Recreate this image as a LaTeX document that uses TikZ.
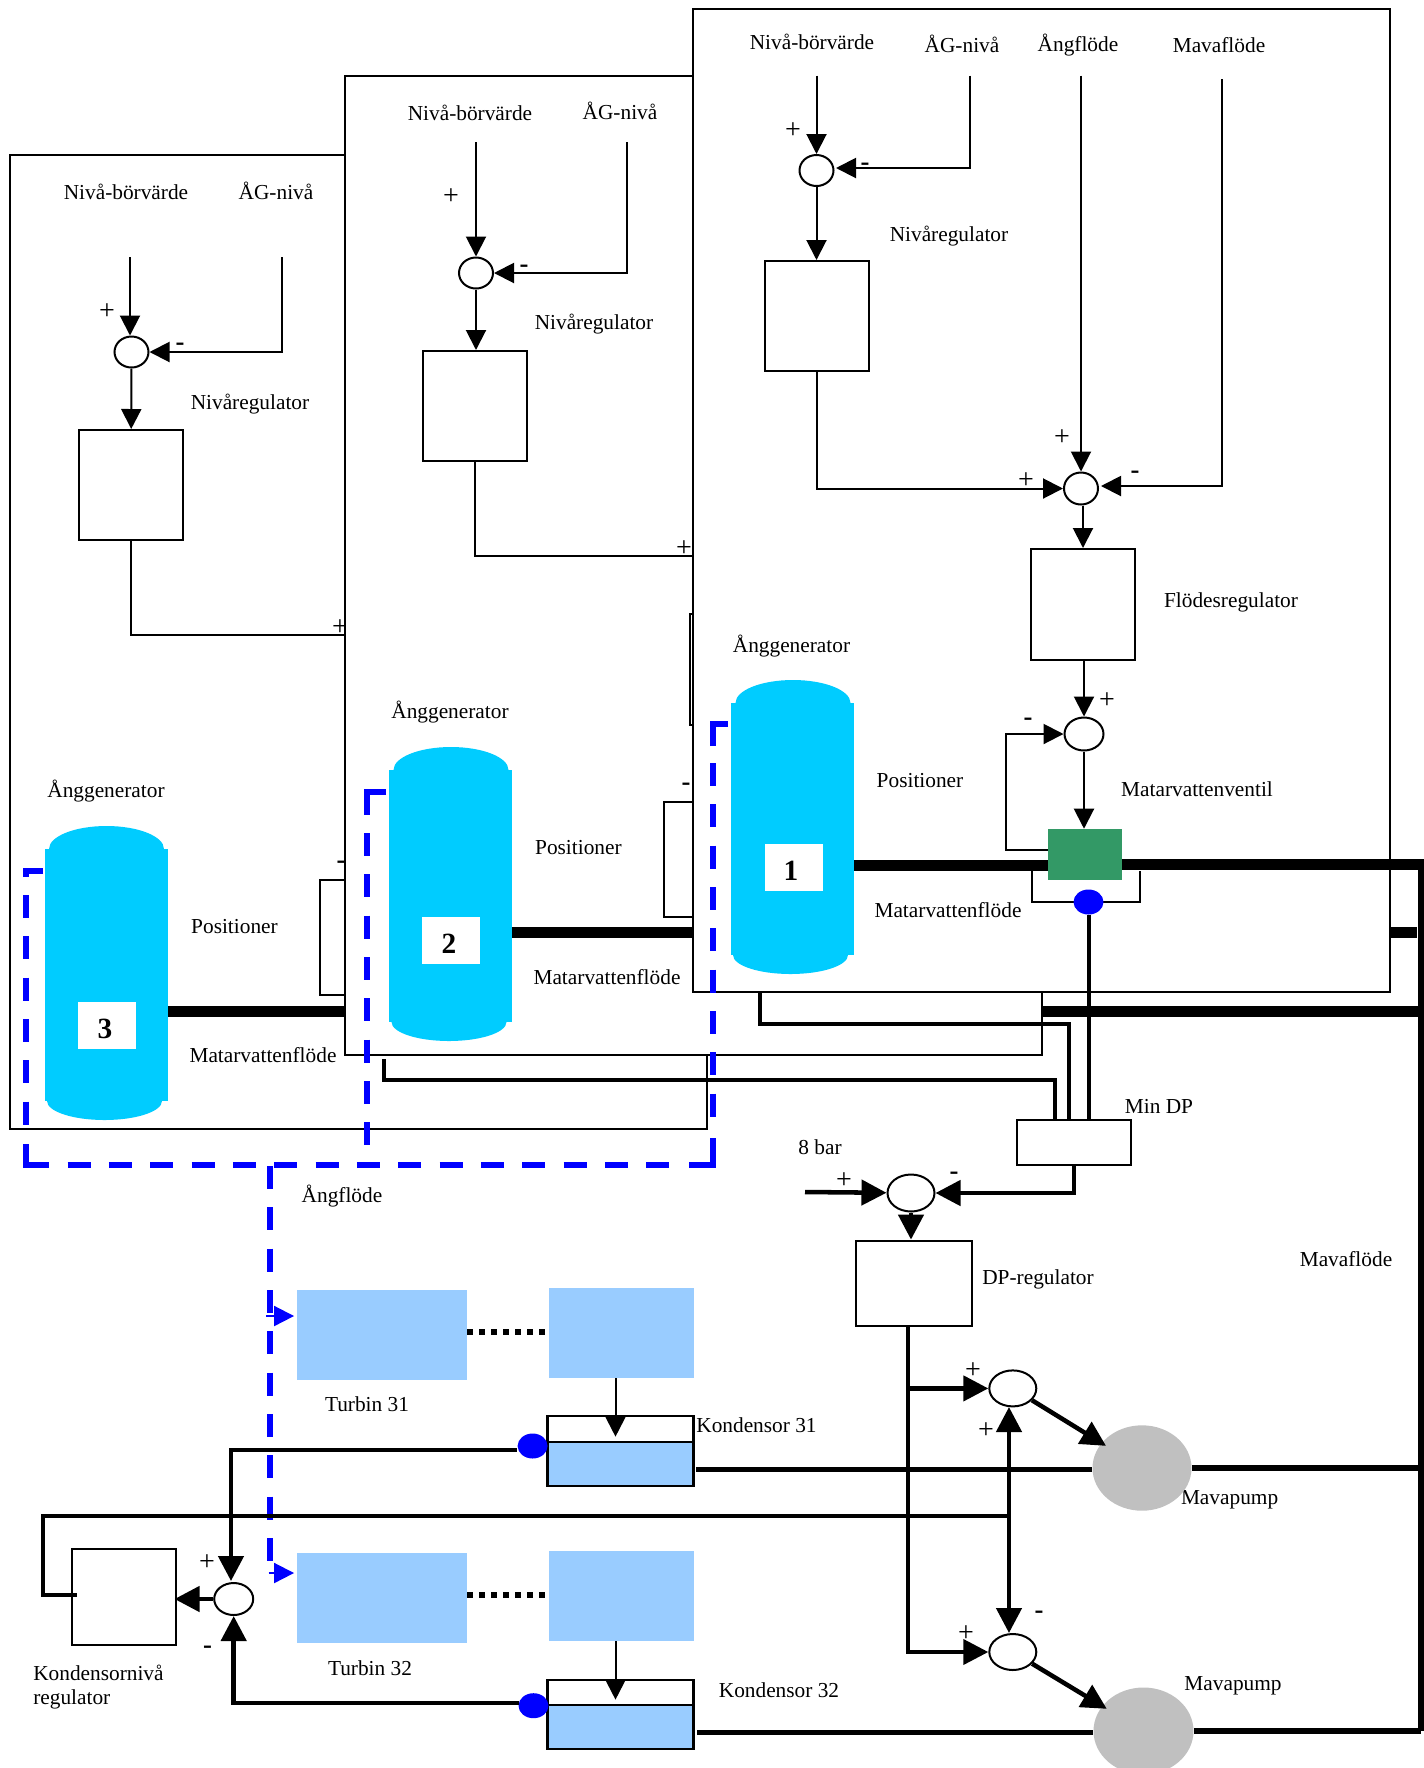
\documentclass[tikz,border=0pt]{standalone}
\usepackage{fontspec}
\setmainfont{Liberation Serif}
\usepackage{xcolor}
\usetikzlibrary{arrows.meta, shapes.geometric}
\definecolor{tankBlue}{HTML}{00CCFF}
\definecolor{turbBlue}{HTML}{99CCFF}
\definecolor{valveGreen}{HTML}{339966}
\definecolor{pumpGrey}{HTML}{C0C0C0}

\begin{document}
\begin{tikzpicture}[
  x=0.75pt, y=-0.75pt,
  wh/.style 2 args={minimum width=#1*0.75pt, minimum height=#2*0.75pt},
  lbl/.style={font=\fontsize{16}{18}\selectfont, inner sep=0pt},
  plus/.style={font=\fontsize{21}{21}\selectfont, inner sep=0pt, yshift=-1.5pt},
  minus/.style={font=\fontsize{20}{20}\selectfont\bfseries, inner sep=0pt, yshift=-3pt},
  digit/.style={inner sep=0pt, font=\fontsize{22}{24}\selectfont\bfseries},
  numbox/.style={fill=white, inner sep=0pt, wh={58}{47}},
  panel/.style={draw, fill=white, line width=1.5pt, inner sep=0pt},
  regbox/.style={draw, fill=white, line width=1.5pt, inner sep=0pt},
  turb/.style={fill=turbBlue, inner sep=0pt},
  kond/.style={draw, line width=2pt, inner sep=0pt},
  sumnode/.style={ellipse, draw, fill=white, line width=1.5pt, inner sep=0pt},
  tankbody/.style={fill=tankBlue, inner sep=0pt},
  dot/.style={ellipse, fill=blue, inner sep=0pt, wh={30}{25}},
  pump/.style={ellipse, fill=pumpGrey, inner sep=0pt},
  wire/.style={line width=1.5pt},
  sensor/.style={line width=3pt},
  sig/.style={line width=1.5pt, -{Triangle[length=15pt,width=15pt]}},
  bigsig/.style={line width=3.4pt, -{Triangle[length=18.75pt,width=18.75pt]}},
  pipe/.style={line width=8.25pt},
  mainline/.style={line width=4.2pt},
  steam/.style={blue, line width=4.5pt, dash pattern=on 17.25pt off 13.75pt},
  steamcorner/.style={blue, line width=4.5pt, miter limit=4},
  steamtip/.style={blue, line width=1.5pt, shorten >=2pt, -{Triangle[length=15pt,width=15pt]}},
  shaft/.style={line width=4.5pt, dash pattern=on 4.5pt off 4.5pt},
]
  \path[use as bounding box, clip] (0,0) rectangle (1424,1768);

  % PANEL 3
  \node[panel, wh={697}{974.5}] (panelC) at (358.5,641.75) {};
  \node[lbl] (spTxtC) at (126,192) {Nivå-börvärde};
  \node[lbl] (agTxtC) at (276,190.5) {ÅG-nivå};
  \node[plus] (plusC1) at (107,310) {+};
  \node[minus] (minusC1) at (180,343) {-};
  \node[lbl] (nivTxtC) at (250,404.5) {Nivåregulator};
  \node[plus] (plusC2) at (340,626) {+};
  \node[lbl] (genTxtC) at (106,791.5) {Ånggenerator};
  \node[lbl] (posTxtC) at (234.5,927) {Positioner};
  \node[lbl] (flowTxtC) at (263,1055.5) {Matarvattenflöde};
  \node[minus] (minusC2) at (341,861) {-};
  \coordinate (spC) at (130,257);
  \coordinate (agC) at (282,257);
  \coordinate (outC) at (345,635);
  \coordinate (pipeC) at (1421,1011);
  \node[sumnode, wh={34}{31}] (sumC) at (131.5,352) {};
  \node[regbox, wh={104}{110}] (regC) at (131,485) {};
  \node[regbox, wh={60}{115}] (posC) at (350,937.5) {};
  \draw[sig] (spC) -- (spC |- sumC.north);
  \draw[sig] (agC) |- (sumC);
  \draw[sig] (sumC) -- (regC);
  \draw[wire] (regC.south) |- (outC);
  \fill[tankBlue] (106.5,849) ellipse (57.5 and 23);
  \fill[tankBlue] (104.5,1101) ellipse (57.5 and 19);
  \node[tankbody, wh={123}{252}] (tankC) at (106.5,975) {};
  \node[numbox] (numBoxC) at (107,1025.5) {};
  \node[digit] (numC) at (105,1029) {3};
  \draw[pipe] (tankC.east |- pipeC) -- (pipeC);

  % PANEL 2
  \node[panel, wh={697}{979.5}] (panelB) at (693.5,565.25) {};
  \node[lbl] (spTxtB) at (470,113) {Nivå-börvärde};
  \node[lbl] (agTxtB) at (620,110.5) {ÅG-nivå};
  \node[plus] (plusB1) at (451,195) {+};
  \node[minus] (minusB1) at (524,265) {-};
  \node[lbl] (nivTxtB) at (594,324.5) {Nivåregulator};
  \node[plus] (plusB2) at (684,547) {+};
  \node[lbl] (genTxtB) at (450,712.5) {Ånggenerator};
  \node[lbl] (posTxtB) at (578.4,848) {Positioner};
  \node[lbl] (flowTxtB) at (607,977.5) {Matarvattenflöde};
  \node[minus] (minusB2) at (686,783) {-};
  \coordinate (spB) at (476,142);
  \coordinate (agB) at (627,142);
  \coordinate (outB) at (692,556);
  \coordinate (pipeB) at (1417,932.5);
  \node[sumnode, wh={34}{31}] (sumB) at (476,273) {};
  \node[regbox, wh={104}{110}] (regB) at (475,406) {};
  \node[regbox, wh={100}{111}] (flowB) at (740,669.5) {};
  \node[regbox, wh={60}{115}] (posB) at (694,859.5) {};
  \draw[sig] (spB) -- (sumB);
  \draw[sig] (agB) |- (sumB);
  \draw[sig] (sumB) -- (sumB |- regB.north);
  \draw[wire] (regB.south) |- (outB);
  \fill[tankBlue] (451,770) ellipse (57.5 and 23);
  \fill[tankBlue] (449,1022) ellipse (57.5 and 19);
  \node[tankbody, wh={123}{252}] (tankB) at (450.5,896) {};
  \node[numbox] (numBoxB) at (451,940.5) {};
  \node[digit] (numB) at (449,944) {2};
  \draw[pipe] (tankB.east |- pipeB) -- (pipeB);

  % PANEL 1
  \node[panel, wh={697}{983}] (panelA) at (1041,500.5) {};
  \node[lbl] (spTxtA) at (812,42) {Nivå-börvärde};
  \node[lbl] (agTxtA) at (962,44) {ÅG-nivå};
  \node[lbl] (steamTxtA) at (1078,45.5) {Ångflöde};
  \node[lbl] (mavaTxtA) at (1219,45) {Mavaflöde};
  \node[plus] (plusA1) at (793,128.5) {+};
  \node[minus] (minusA1) at (865,163) {-};
  \node[lbl] (nivTxtA) at (949,236.5) {Nivåregulator};
  \node[plus] (plusA2) at (1026,479) {+};
  \node[plus] (plusA3) at (1062,436) {+};
  \node[minus] (minusA2) at (1135,471) {-};
  \node[lbl] (flodTxtA) at (1231,602) {Flödesregulator};
  \node[plus] (plusA4) at (1107,699) {+};
  \node[minus] (minusA3) at (1028,718) {-};
  \node[lbl] (ventTxtA) at (1197,789) {Matarvattenventil};
  \node[lbl] (genTxtA) at (791.5,646) {Ånggenerator};
  \node[lbl] (posTxtA) at (920,781) {Positioner};
  \node[lbl] (flowTxtA) at (948,910) {Matarvattenflöde};
  \coordinate (spA) at (816.5,75.5);
  \coordinate (agA) at (969.6,75.5);
  \coordinate (sumAe) at (836,168);
  \coordinate (stA) at (1081,75.5);
  \coordinate (mavaA) at (1222,79);
  \coordinate (sumFe) at (1101,486);
  \coordinate (pipeV) at (1048,865);
  \coordinate (fbV) at (1006,849.6);
  \coordinate (brL) at (1032,871);
  \coordinate (brR) at (1140,871);
  \coordinate (busE) at (1424,864);
  \coordinate (busN) at (1421,864);
  \coordinate (busS) at (1421,1731);
  \node[sumnode, wh={34}{31}] (sumA) at (816.5,170.5) {};
  \node[regbox, wh={104}{110}] (regA) at (816.5,316) {};
  \node[sumnode, wh={34}{32}] (sumF) at (1081,488.5) {};
  \node[regbox, wh={104}{111}] (flowA) at (1083,604.5) {};
  \node[sumnode, wh={39}{33}] (sumV) at (1084,734) {};
  \draw[sig] (spA) -- (sumA);
  \draw[sig] (agA) |- (sumAe);
  \draw[sig] (sumA) -- (sumA |- regA.north);
  \draw[sig] (regA.south) |- (sumF);
  \draw[sig] (stA) -- (sumF);
  \draw[sig] (mavaA) |- (sumFe);
  \draw[sig] (sumF.south -| flowA.north) -- (flowA.north);
  \draw[sig] (flowA.south -| sumV) -- (sumV);
  \fill[tankBlue] (793,703) ellipse (57.5 and 23);
  \fill[tankBlue] (790.5,955) ellipse (57.5 and 19);
  \node[tankbody, wh={123}{252}] (tankA) at (792.5,829) {};
  \node[numbox] (numBoxA) at (794,867.5) {};
  \node[digit] (numA) at (791,870.5) {1};
  \draw[pipe] (tankA.east |- pipeV) -- (pipeV);
  \draw[wire] (brL) |- (1088,902) -| (brR);
  \node[fill=valveGreen, inner sep=0pt, wh={74}{51}] (valve) at (1085,854.5) {};
  \node[dot] (dotV) at (1088.5,902) {};
  \draw[sig] (sumV.south) -- (sumV.south |- valve.north);
  \draw[sig] (valve.west |- fbV) -- (fbV) |- (sumV);
  \draw[pipe] (valve.east |- busE) -- (busE);
  \draw[line width=4.5pt] (busN) -- (busS);

  % STEAM
  \coordinate (stC0) at (43,871);
  \coordinate (stC1) at (26,871);
  \coordinate (stC2) at (26,877);
  \coordinate (stC3) at (26,895);
  \coordinate (stC4) at (26,1126);
  \coordinate (stC5) at (26,1144);
  \coordinate (stC6) at (26,1165);
  \coordinate (stC7) at (49,1165);
  \coordinate (stH0) at (67.5,1165);
  \coordinate (stH1) at (671,1165);
  \coordinate (stH2) at (689,1165);
  \coordinate (stH3) at (713,1165);
  \coordinate (stH4) at (713,1138);
  \coordinate (stA0) at (713,763);
  \coordinate (stA1) at (713,1120);
  \coordinate (stA2) at (713,746);
  \coordinate (stA3) at (713,723.5);
  \coordinate (stA4) at (728,723.5);
  \coordinate (stB0) at (386,792);
  \coordinate (stB1) at (367,792);
  \coordinate (stB2) at (367,815);
  \coordinate (stB3) at (367,833);
  \coordinate (stB4) at (367,1147);
  \coordinate (stT0) at (269.5,1166);
  \coordinate (stT1) at (269.5,1562);
  \draw[steamcorner] (stC0) -- (stC1) -- (stC2);
  \draw[steam] (stC3) -- (stC4);
  \draw[steamcorner] (stC5) -- (stC6) -- (stC7);
  \draw[steam] (stH0) -- (stH1);
  \draw[steamcorner] (stH2) -- (stH3) -- (stH4);
  \draw[steam] (stA0) -- (stA1);
  \draw[steamcorner] (stA2) -- (stA3) -- (stA4);
  \draw[steamcorner] (stB0) -- (stB1) -- (stB2);
  \draw[steam] (stB3) -- (stB4);
  \draw[steam] (stT0) -- (stT1);

  % LOWER RIGHT
  \node[lbl] (minTxt) at (1159,1106) {Min DP};
  \node[lbl] (barTxt) at (820,1147) {8 bar};
  \node[plus] (plusT) at (844,1179) {+};
  \node[minus] (minusT) at (954,1172) {-};
  \node[lbl] (steamTxt) at (342,1196) {Ångflöde};
  \node[lbl] (dpTxt) at (1038,1279) {DP-regulator};
  \node[lbl] (mavaTxt) at (1346,1259.5) {Mavaflöde};
  \node[lbl] (pumpTxt1) at (1229.6,1500) {Mavapump};
  \node[lbl] (pumpTxt2) at (1233,1686) {Mavapump};
  \node[plus] (plusP1) at (973,1369) {+};
  \node[plus] (plusP2) at (986,1429) {+};
  \node[minus] (minusP) at (1039,1611) {-};
  \node[plus] (plusP3) at (966,1632) {+};
  \coordinate (in8) at (805,1192);
  \coordinate (dpOut) at (908,1326);
  \coordinate (brP) at (908,1388.4);
  \node[regbox, wh={114}{45}] (minDP) at (1074,1142.5) {};
  \node[sumnode, wh={47}{37}] (sumT) at (911,1193) {};
  \node[regbox, wh={116.4}{85.4}] (dpReg) at (913.8,1283.3) {};
  \node[sumnode, wh={47}{36}] (sumP1) at (1012.8,1388.4) {};
  \node[sumnode, wh={47}{36}] (sumP2) at (1012.8,1652) {};
  \node[pump, wh={99}{85.4}] (pump1) at (1142,1468) {};
  \node[pump, wh={100}{87}] (pump2) at (1143.5,1731) {};

  % TURBINES
  \node[lbl] (turbTxt1) at (367,1404) {Turbin 31};
  \node[lbl] (turbTxt2) at (370,1668) {Turbin 32};
  \node[lbl] (kondTxt1) at (756.5,1425) {Kondensor 31};
  \node[lbl] (kondTxt2) at (779,1690) {Kondensor 32};
  \node[lbl, anchor=west] (regTxt1) at (33,1673) {Kondensornivå};
  \node[lbl, anchor=west] (regTxt2) at (33,1699.5) {regulator};
  \node[plus] (plusK) at (207,1561) {+};
  \node[minus] (minusK) at (207.5,1646) {-};
  \node[turb, wh={170}{90}] (turbA1) at (382,1335) {};
  \node[turb, wh={145}{90}] (turbB1) at (621.5,1333) {};
  \node[turb, wh={170}{90}] (turbA2) at (382,1598) {};
  \node[turb, wh={145}{90}] (turbB2) at (621.5,1596) {};
  \node[kond, fill=white, wh={145.5}{26}] (kondT1) at (620.5,1429) {};
  \node[kond, fill=turbBlue, wh={145.5}{44}] (kond1) at (620.5,1464) {};
  \node[kond, fill=white, wh={145.5}{25}] (kondT2) at (620.5,1692.5) {};
  \node[kond, fill=turbBlue, wh={145.5}{44}] (kond2) at (620.5,1727) {};
  \node[dot] (dotK1) at (532.6,1446) {};
  \node[dot] (dotK2) at (533.5,1705.7) {};
  \node[sumnode, wh={39}{32}] (sumK) at (233.7,1599) {};
  \node[regbox, wh={104.4}{96}] (regK) at (124,1597) {};
  \coordinate (dots1) at (546,1332);
  \coordinate (dots2) at (546,1595);
  \coordinate (drop1) at (615.5,1378);
  \coordinate (drop2) at (615.5,1641);
  \coordinate (bl1) at (266,1316);
  \coordinate (bl2) at (268.6,1573);
  \coordinate (senK1) at (516.5,1450);
  \coordinate (senK2) at (519,1703);
  \coordinate (sumKn) at (231,1581);
  \coordinate (fbK0) at (77,1595);
  \coordinate (fbK1) at (42.7,1595);
  \coordinate (fbK2) at (1009,1516);
  \coordinate (sumP1s) at (1009,1407);
  \coordinate (sumP2n) at (1009,1633);
  \coordinate (out1) at (696,1469.6);
  \coordinate (out2) at (697,1732.6);
  \coordinate (fbP1) at (760,992);
  \coordinate (fbP1b) at (1069,1024);
  \coordinate (fbP2) at (384,1059);
  \coordinate (fbP2b) at (1055,1080);

  % LINKS
  \draw[sensor] (dotV) -- (dotV |- minDP.north);
  \draw[sensor] (fbP1) |- (fbP1b) -- (fbP1b |- minDP.north);
  \draw[sensor] (fbP2) |- (fbP2b) -- (fbP2b |- minDP.north);
  \draw[bigsig] (in8) -- (sumT);
  \draw[bigsig] (minDP.south) |- (sumT);
  \draw[bigsig] (sumT.south) -- (sumT.south |- dpReg.north);
  \draw[sensor, -{Triangle[length=18.75pt,width=18.75pt]}] (dpOut) |- (sumP2);
  \draw[bigsig] (brP) -- (sumP1);
  \draw[bigsig, shorten >=-4pt] (sumP1) -- (pump1);
  \draw[bigsig, shorten >=-4pt] (sumP2) -- (pump2);
  \draw[mainline] (out1) -- (out1 -| pump1.west);
  \draw[mainline] (pump1.east) -- (pump1.east -| busS);
  \draw[mainline] (out2) -- (out2 -| pump2.west);
  \draw[mainline] (pump2.east) -- (pump2.east -| busS);
  \draw[steamtip] (bl1) -- (bl1 -| turbA1.west);
  \draw[steamtip] (bl2) -- (bl2 -| turbA2.west);
  \draw[shaft] (turbA1.east |- dots1) -- (dots1);
  \draw[shaft] (turbA2.east |- dots2) -- (dots2);
  \draw[sig, shorten >=3pt] (drop1) -- (drop1 |- kond1.north);
  \draw[sig, shorten >=3pt] (drop2) -- (drop2 |- kond2.north);
  \draw[bigsig] (senK1) -| (sumKn);
  \draw[bigsig] (senK2) -| (sumK);
  \draw[bigsig, shorten >=-2pt] (sumK) -- (sumK -| regK.east);
  \draw[sensor] (fbK0) -- (fbK1) |- (fbK2);
  \draw[bigsig, {Triangle[length=18.75pt,width=18.75pt]}-{Triangle[length=18.75pt,width=18.75pt]}] (sumP1s) -- (sumP2n);
\end{tikzpicture}
\end{document}
